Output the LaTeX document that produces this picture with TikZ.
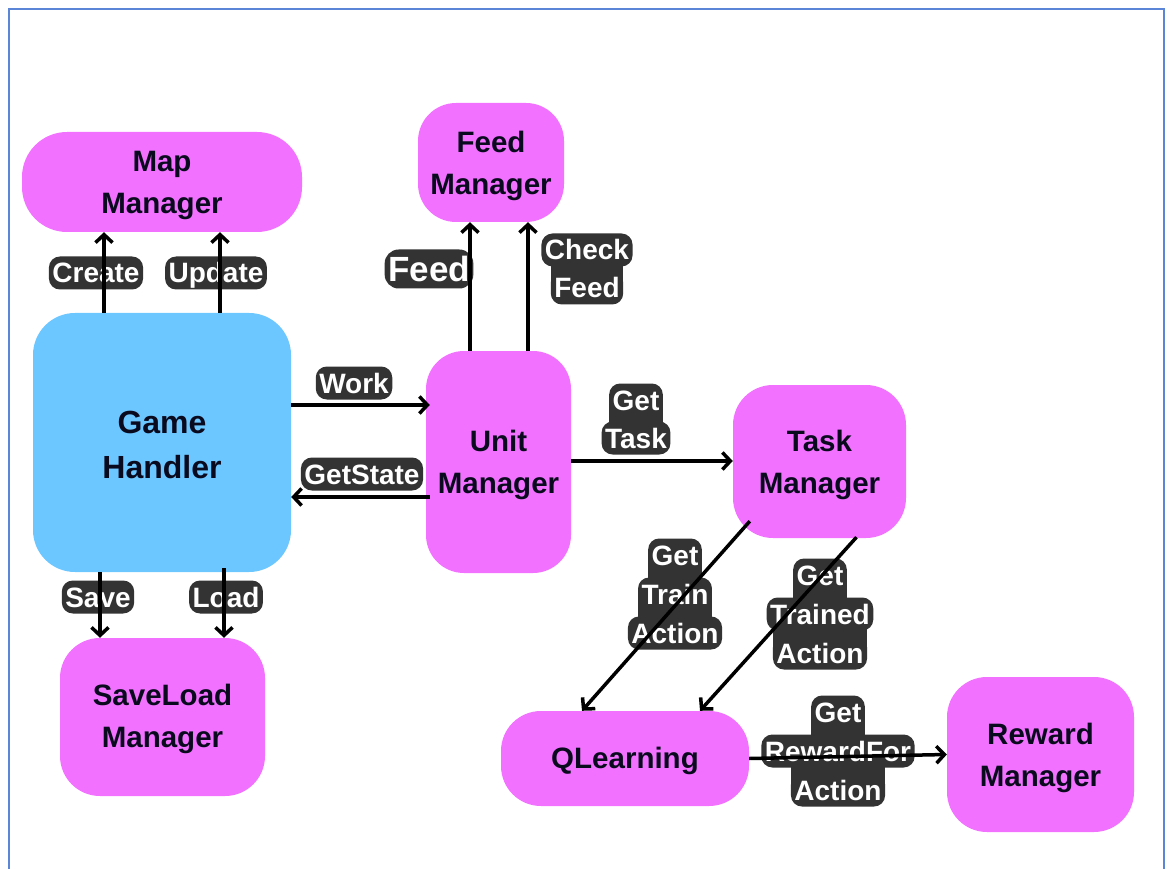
\documentclass[tikz,border=0pt]{standalone}
\usepackage{fontspec}
\setmainfont{Liberation Sans}
\usetikzlibrary{arrows.meta,backgrounds}
\definecolor{mag}{HTML}{F272FF}
\definecolor{sky}{HTML}{6CC6FF}
\definecolor{labbg}{HTML}{333333}
\definecolor{framecol}{HTML}{5B86D8}
\definecolor{ink}{HTML}{0A0A1E}
\begin{document}
\begin{tikzpicture}[x=1pt,y=-1pt,
  box/.style={fill=mag, rounded corners=40pt, inner sep=0pt},
  boxtext/.style={align=center, text=ink, inner sep=0pt,
    font=\fontsize{29.5}{42}\selectfont\bfseries},
  lab/.style={fill=labbg, text=white, rounded corners=11pt,
    font=\fontsize{28}{28}\selectfont\bfseries, inner xsep=3.5pt, inner ysep=5.5pt,
    text height=21pt, text depth=1pt},
  biglab/.style={lab, font=\fontsize{35}{35}\selectfont\bfseries,
    text height=26pt, text depth=1pt, inner ysep=6pt, rounded corners=14pt},
  link/.style={line width=3.5pt, -{Straight Barb[length=8pt,width=17pt]}},
]
\useasboundingbox (0,0) rectangle (1171,869);
\clip (0,0) rectangle (1171,869);

% outer frame
\draw[framecol, line width=2pt] (9,880) -- (9,9) -- (1164,9) -- (1164,880);

% components
\node[box, minimum width=280pt, minimum height=100pt, rounded corners=45pt] (mm) at (162,182) {};
\node[box, minimum width=146pt, minimum height=119pt, rounded corners=38pt] (fm) at (491,162.5) {};
\node[box, fill=sky, minimum width=258pt, minimum height=259pt, rounded corners=42pt] (gh) at (162,442.5) {};
\node[box, minimum width=145pt, minimum height=222pt, rounded corners=38pt] (um) at (498.5,462) {};
\node[box, minimum width=173pt, minimum height=153pt] (tm) at (819.5,461.5) {};
\node[box, minimum width=205pt, minimum height=158pt] (sl) at (162.5,717) {};
\node[box, minimum width=248pt, minimum height=95pt] (ql) at (625,758.5) {};
\node[box, minimum width=187pt, minimum height=155pt] (rm) at (1040.5,754.5) {};

% component titles
\node[boxtext] (mmt) at ([yshift=-3pt]mm.center) {Map\\Manager};
\node[boxtext] (fmt) at ([yshift=-3pt]fm.center) {Feed\\Manager};
\node[boxtext, font=\fontsize{32}{45}\selectfont\bfseries] (ght) at ([yshift=-2pt]gh.center) {Game\\Handler};
\node[boxtext] (umt) at ([yshift=-3pt]um.center) {Unit\\Manager};
\node[boxtext] (tmt) at ([yshift=-3pt]tm.center) {Task\\Manager};
\node[boxtext] (slt) at ([yshift=-2pt]sl.center) {SaveLoad\\Manager};
\node[boxtext] (qlt) at ([yshift=-2pt]ql.center) {QLearning};
\node[boxtext] (rmt) at ([yshift=-3pt]rm.center) {Reward\\Manager};

% connector labels
\node[lab] (lcreate) at (96,273) {Create};
\node[lab] (lupdate) at (216,273) {Update};
\node[biglab] (lfeed) at (429,269) {Feed};
\node[lab] (lcf1) at (587,250) {Check};
\node[lab] (lcf2) at (587,288) {Feed};
\node[lab] (lwork) at (354,383) {Work};
\node[lab] (lstate) at (362,474) {GetState};
\node[lab] (lgt1) at (636,400) {Get};
\node[lab] (lgt2) at (636,438) {Task};
\node[lab] (lsave) at (98,597) {Save};
\node[lab] (lload) at (226,597) {Load};
\node[lab] (ltr1) at (675,555) {Get};
\node[lab] (ltr2) at (675,594) {Train};
\node[lab] (ltr3) at (675,633) {Action};
\node[lab] (ltd1) at (820,575) {Get};
\node[lab] (ltd2) at (820,614) {Trained};
\node[lab] (ltd3) at (820,653) {Action};
\node[lab] (lrw1) at (838,712) {Get};
\node[lab] (lrw2) at (838,751) {RewardFor};
\node[lab] (lrw3) at (838,790) {Action};

% fill between stacked label lines, at the narrower line's width
\begin{pgfonlayer}{background}
  \fill[labbg] (lcf2.west |- lcf1.center) rectangle (lcf2.east |- lcf2.center);
  \fill[labbg] (lgt1.west |- lgt1.center) rectangle (lgt1.east |- lgt2.center);
  \fill[labbg] (ltr1.west |- ltr1.center) rectangle (ltr1.east |- ltr2.center);
  \fill[labbg] (ltr2.west |- ltr2.center) rectangle (ltr2.east |- ltr3.center);
  \fill[labbg] (ltd1.west |- ltd1.center) rectangle (ltd1.east |- ltd2.center);
  \fill[labbg] (ltd3.west |- ltd2.center) rectangle (ltd3.east |- ltd3.center);
  \fill[labbg] (lrw1.west |- lrw1.center) rectangle (lrw1.east |- lrw2.center);
  \fill[labbg] (lrw3.west |- lrw2.center) rectangle (lrw3.east |- lrw3.center);
\end{pgfonlayer}

% connector tracks
\coordinate (xcreate) at (104,0);
\coordinate (xupdate) at (220,0);
\coordinate (xfeed) at (470,0);
\coordinate (xcheck) at (528,0);
\coordinate (xsave) at (100,0);
\coordinate (xload) at (224,0);
\coordinate (ywork) at (0,405);
\coordinate (ystate) at (0,497);
\coordinate (ytask) at (0,461);

% connectors
\draw[link] (gh.north -| xcreate) -- (mm.south -| xcreate);
\draw[link] (gh.north -| xupdate) -- (mm.south -| xupdate);
\draw[link] (um.north -| xfeed) -- (fm.south -| xfeed);
\draw[link] (um.north -| xcheck) -- (fm.south -| xcheck);
\draw[link] (gh.east |- ywork) -- ([xshift=4pt]um.west |- ywork);
\draw[link] ([xshift=4pt]um.west |- ystate) -- (gh.east |- ystate);
\draw[link] (um.east |- ytask) -- (tm.west |- ytask);
\draw[link] (gh.south -| xsave) -- (sl.north -| xsave);
\draw[link] ([yshift=4pt]gh.south -| xload) -- (sl.north -| xload);
\draw[link] ([shift={(17pt,17pt)}]tm.south west) -- ([xshift=-43pt]ql.north);
\draw[link] ([shift={(37pt,1pt)}]tm.south) -- ([xshift=75pt]ql.north);
\draw[link] (ql.east) -- (rm.west);
\end{tikzpicture}
\end{document}
